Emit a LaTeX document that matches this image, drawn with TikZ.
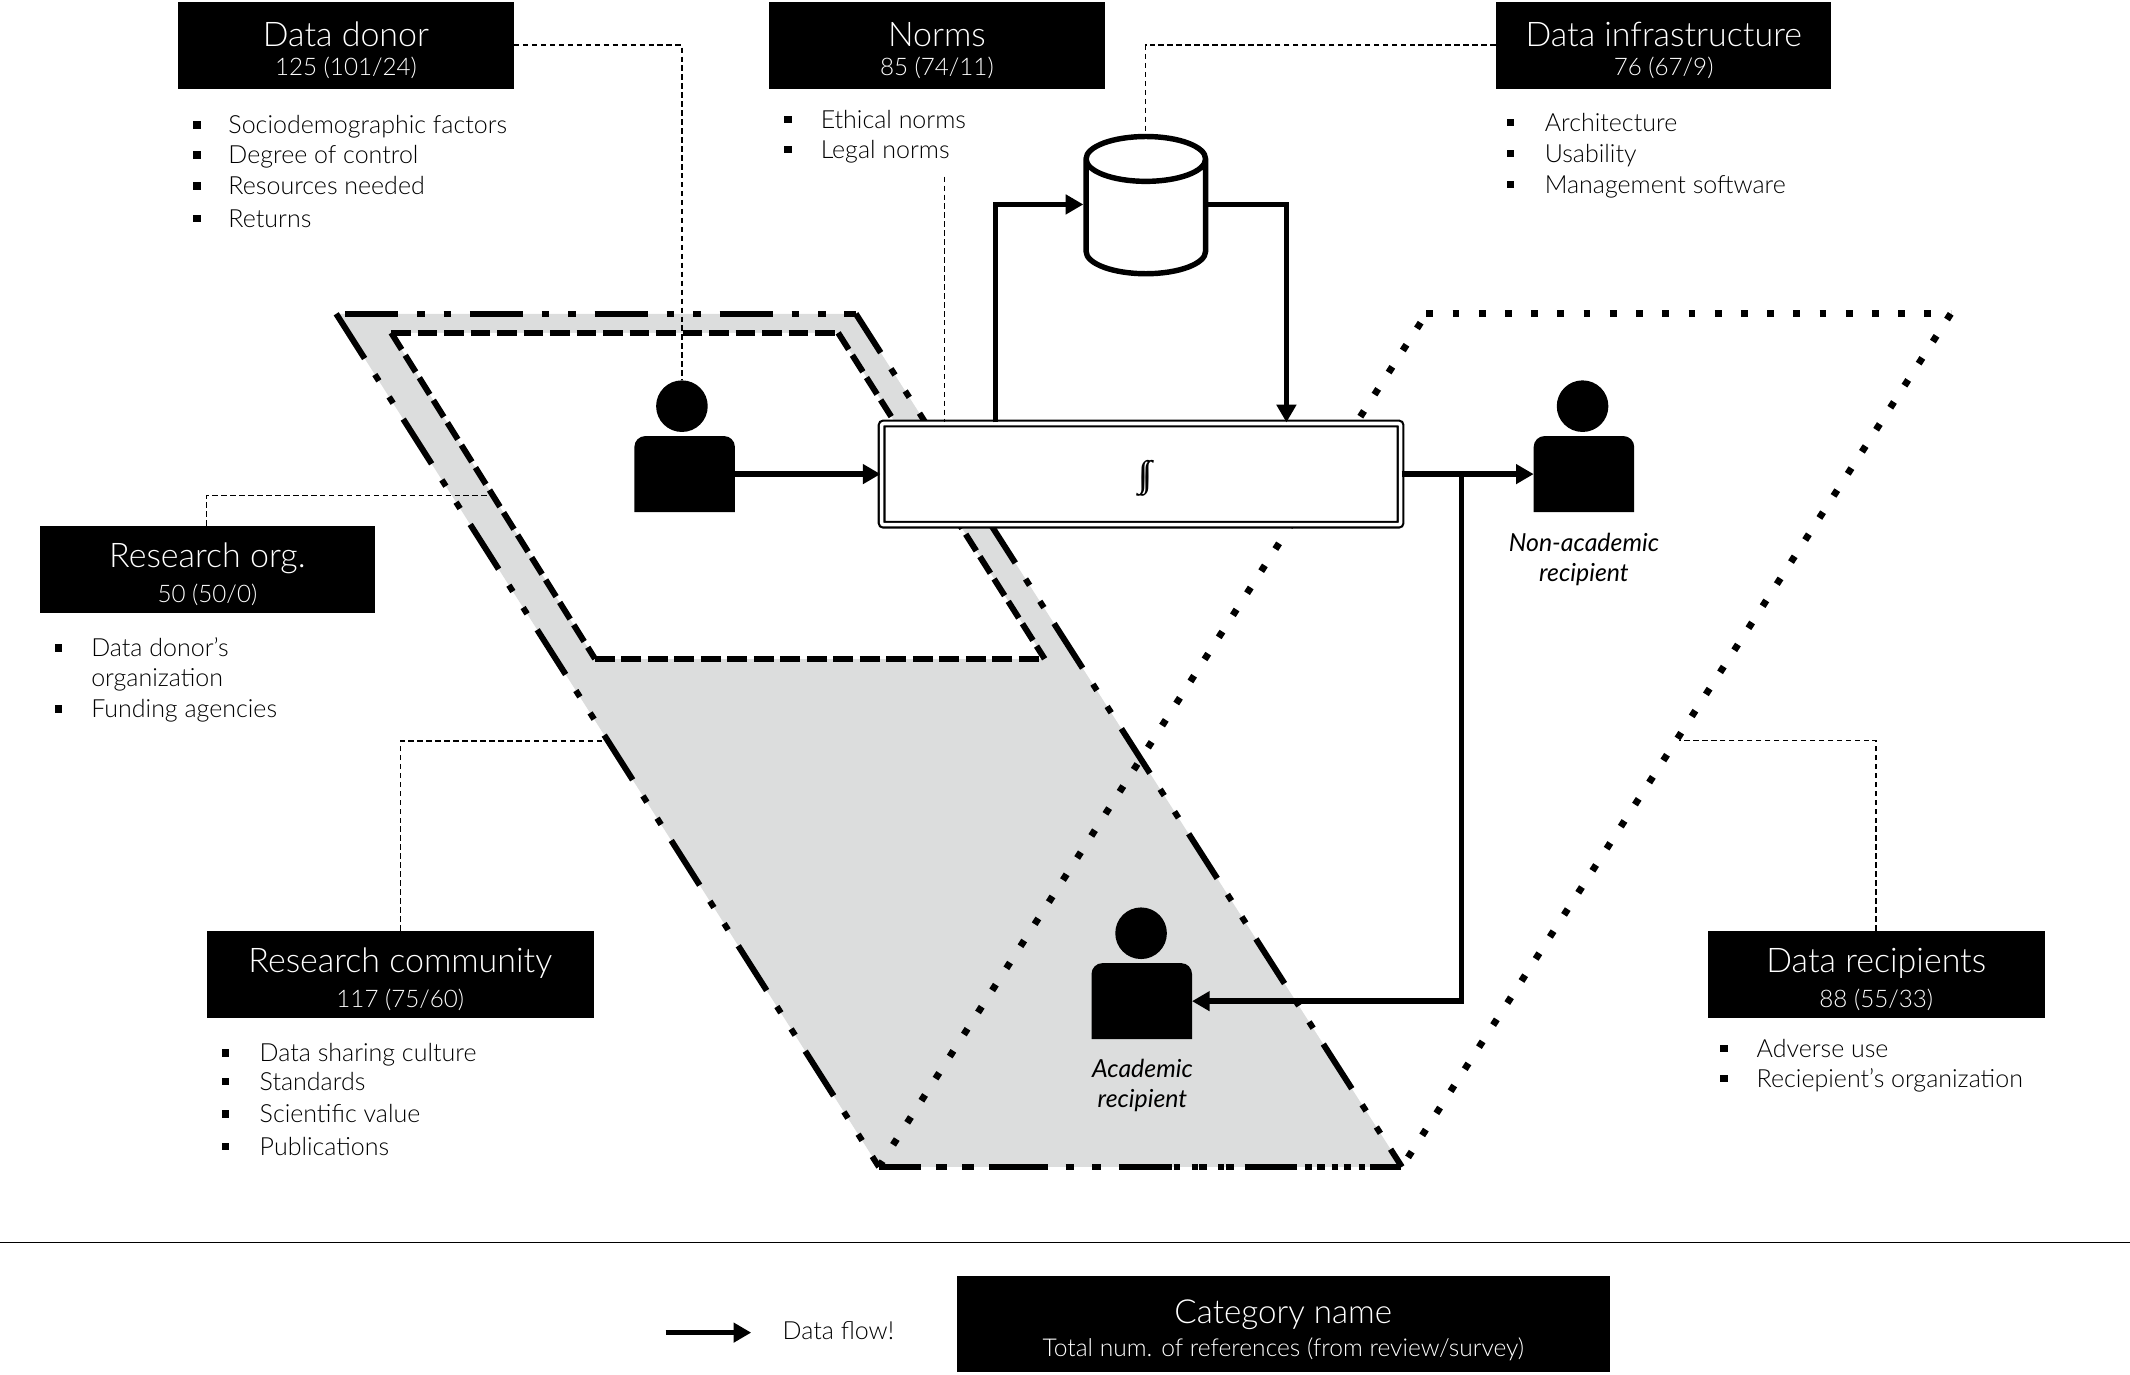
\documentclass[tikz,border=0pt]{standalone}
\usepackage{fontspec}
\setmainfont{Lato}[UprightFont=* Light,ItalicFont=* Italic]
\newfontfamily\intfont{Liberation Serif}
\usetikzlibrary{arrows.meta,calc}
\definecolor{zone}{HTML}{DCDDDD}
\tikzset{
  hdrbox/.style={fill=black,text=white,inner sep=0pt,align=center,anchor=north west},
  lst/.style={anchor=base west,inner sep=0pt,font=\fontsize{18.4}{24}\selectfont},
  bul/.style={fill=black,minimum size=5.5pt,inner sep=0pt},
  pcaption/.style={anchor=center,inner sep=0pt,align=center,font=\fontsize{18.3}{22}\selectfont\itshape},
  flow/.style={line width=4pt,-{Triangle[length=13pt,width=14pt]}},
  leader/.style={line width=0.9pt,dash pattern=on 4pt off 2.6pt},
  outerline/.style={line width=4.4pt,dash pattern=on 39pt off 14pt on 5.5pt off 14pt on 5.5pt off 13.9pt},
  bottomline/.style={line width=4.4pt,dash pattern=on 31pt off 11.2pt on 7.7pt off 11.6pt on 8.4pt off 11pt on 43.7pt off 12.9pt on 6.2pt off 13.2pt on 6.5pt off 13.3pt on 38.8pt off 1.4pt on 4.8pt off 8.5pt on 4.5pt off 1.2pt on 5.6pt off 8.4pt on 4.5pt off 1.1pt on 5.7pt off 8pt on 38.8pt off 5.6pt on 5.1pt off 3.9pt on 5.6pt off 5pt on 5pt off 4pt on 5pt off 6pt on 4.6pt off 3.7pt on 23.2pt off 50pt},
  innerline/.style={line width=4.4pt,dash pattern=on 14.5pt off 5pt},
  dotline/.style={line width=5pt,dash pattern=on 5pt off 14.3pt},
  head/.style={shape=circle,fill=black,minimum size=38pt,inner sep=0pt},
  bodyanchor/.style={minimum width=74pt,minimum height=56pt,inner sep=0pt,outer sep=0pt},
  storebox/.style={minimum width=92pt,minimum height=106pt,inner sep=0pt,outer sep=0pt}
}
\newcommand{\hdrtwo}[7]{\node[hdrbox,minimum width=#4pt,minimum height=#5pt] (#1) at (#2,#3) {\fontsize{25}{26}\selectfont\rule{0pt}{30pt}#6\\[6.5pt]\fontsize{17.8}{20}\selectfont #7\rule[-7pt]{0pt}{7pt}};}
\newcommand{\blt}[5]{\node[bul] (#1b) at (#2,#4) {}; \node[lst] (#1) at (#3,#4+6.5) {#5};}
\newcommand{\persn}[4]{%
  \node[head] (#1head) at (#4,#3-50) {};
  \node[bodyanchor] (#1) at (#2,#3) {};
  \fill (#1.south west) [rounded corners=8pt] -- (#1.north west) -- (#1.north east) [sharp corners] -- (#1.south east) -- cycle;}
\begin{document}
\begin{tikzpicture}[x=1pt,y=-1pt]
\useasboundingbox (0,0) rectangle (1568,1011.5);
% coordinates of the shapes
\coordinate (oL) at (247.5,231); \coordinate (oA) at (254,231); \coordinate (oB) at (630,231); \coordinate (oC) at (1032,859); \coordinate (oD) at (647,859);
\coordinate (iA) at (288,245); \coordinate (iB) at (617,245); \coordinate (iC) at (769,485); \coordinate (iD) at (438,485);
\coordinate (dA) at (1050,231); \coordinate (dB) at (1436,231);
% zones
\fill[zone] (oL) -- (oB) -- (oC) -- (oD) -- cycle;
\fill[white] (iA) -- (iB) -- (iC) -- (iD) -- cycle;
\draw[dotline] (dA) -- (dB);
\draw[dotline] (dB) -- (oC);
\draw[dotline] (oD) -- (dA);
\draw[outerline] (oA) -- (oB);
\draw[outerline,dash phase=5pt] (oB) -- (oC);
\draw[outerline] (oL) -- (oD);
\draw[bottomline] (oD) -- (oC);
\draw[innerline] (iA) -- (iB);
\draw[innerline] (iB) -- (iC);
\draw[innerline] (iA) -- (iD);
\draw[innerline] (iD) -- (iC);
% headers
\hdrtwo{donor}{131}{1}{247}{64}{Data donor}{125 (101/24)}
\hdrtwo{norms}{566}{1}{247}{64}{Norms}{85 (74/11)}
\hdrtwo{infra}{1101}{1}{247}{64}{Data infrastructure}{76 (67/9)}
\hdrtwo{org}{29}{387}{247}{64}{Research org.}{50 (50/0)}
\hdrtwo{comm}{152}{685}{285}{64}{Research community}{117 (75/60)}
\hdrtwo{recip}{1257}{685}{248}{64}{Data recipients}{88 (55/33)}
\node[hdrbox,minimum width=481pt,minimum height=71pt] (catg) at (704,939) {\fontsize{24.4}{27}\selectfont\rule{0pt}{26pt}Category name\\[5pt]\fontsize{18.1}{21}\selectfont Total num. of references (from review/survey)};
% lists
\blt{d1}{145}{168}{92}{Sociodemographic factors}
\blt{d2}{145}{168}{114}{Degree of control}
\blt{d3}{145}{168}{137}{Resources needed}
\blt{d4}{145}{168}{161}{Returns}
\blt{n1}{580}{604}{88}{Ethical norms}
\blt{n2}{580}{604}{110}{Legal norms}
\blt{i1}{1112}{1137}{90}{Architecture}
\blt{i2}{1112}{1137}{113}{Usability}
\blt{i3}{1112}{1137}{136}{Management software}
\blt{o1}{43}{67}{477}{Data donor’s}
\node[lst] (o1x) at (67,505.5) {organization};
\blt{o2}{43}{67}{522}{Funding agencies}
\blt{c1}{166}{191}{775}{Data sharing culture}
\blt{c2}{166}{191}{796}{Standards}
\blt{c3}{166}{191}{820}{Scientific value}
\blt{c4}{166}{191}{844}{Publications}
\blt{r1}{1269}{1293}{772}{Adverse use}
\blt{r2}{1269}{1293}{794}{Reciepient’s organization}
% main box
\node[draw,line width=1.6pt,double,double distance=2.6pt,fill=white,rounded corners=1.5pt,minimum width=382pt,minimum height=74.5pt,inner sep=0pt] (box) at (840,349) {};
\node[inner sep=0pt] (boxmark) at (843,352) {\intfont\fontsize{27}{28}\selectfont \rlap{∫}\kern2.8pt ∫};
% people
\persn{donorp}{504}{349}{502}
\persn{nonac}{1166}{349}{1165}
\persn{acad}{840.5}{737}{840}
\node[pcaption] (nonaccap) at (1166,412) {Non-academic\\recipient};
\node[pcaption] (acadcap) at (841,799) {Academic\\recipient};
% store
\node[storebox] (store) at (843.5,150.5) {};
\draw[line width=4pt,fill=white,line join=round] (799.5,117) arc[start angle=180,end angle=0,x radius=44,y radius=16.5] -- (887.5,185) arc[start angle=0,end angle=180,x radius=44,y radius=16.5] -- cycle;
\draw[line width=4pt] (799.5,117) arc[start angle=180,end angle=360,x radius=44,y radius=16.5];
% flows
\coordinate (toStore) at ($(box.north)+(-107,0)$);
\coordinate (fromStore) at ($(box.north)+(107,0)$);
\coordinate (branch) at ($(box.east)+(44,0)$);
\draw[flow] (donorp.east) -- (box.west);
\draw[flow] (toStore) |- (store.west);
\draw[flow] (store.east) -| (fromStore);
\draw[flow] (box.east) -- (nonac.west);
\draw[flow] (branch) |- (acad.east);
% leaders
\coordinate (normsTop) at (695,130);
\coordinate (orgKnee) at (152,365);
\coordinate (orgEnd) at (363,365);
\coordinate (commEnd) at (443,545.5);
\coordinate (commTop) at (295,685);
\coordinate (recipEnd) at (1236,545);
\coordinate (recipTop) at (1381,685);
\draw[leader] (donor.east) -| (donorphead.north);
\draw[leader] (infra.west) -| (store.north);
\draw[leader] (normsTop) -- (normsTop |- box.north);
\draw[leader] (orgKnee |- org.north) -- (orgKnee) -- (orgEnd);
\draw[leader] (commTop) |- (commEnd);
\draw[leader] (recipTop) |- (recipEnd);
% rule and legend
\coordinate (ruleL) at (0,914.5); \coordinate (ruleR) at (1568,914.5);
\draw[line width=1pt] (ruleL) -- (ruleR);
\coordinate (legA) at (490,981); \coordinate (legB) at (553,981);
\draw[flow] (legA) -- (legB);
\node[lst] (legtxt) at (576,986) {Data flow!};
\end{tikzpicture}
\end{document}
